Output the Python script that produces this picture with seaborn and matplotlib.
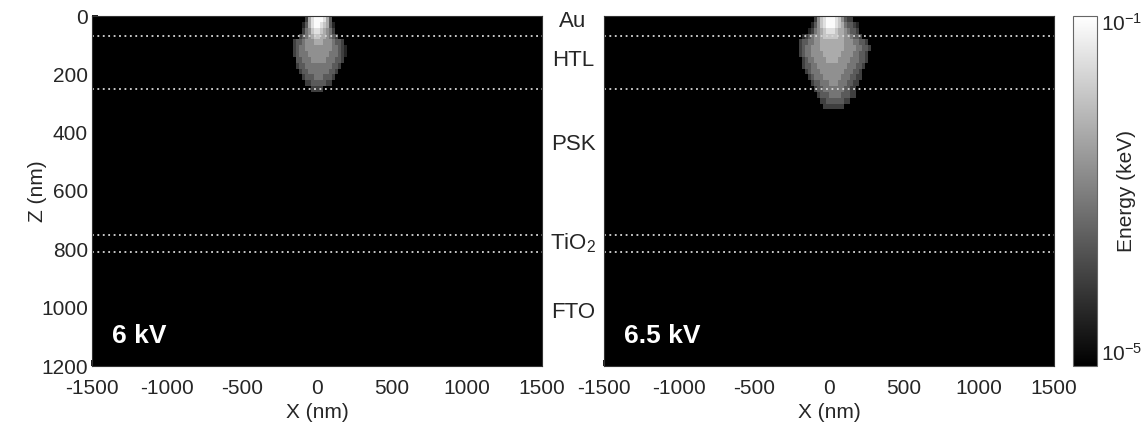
import numpy as np
import matplotlib
matplotlib.use("Agg")
import matplotlib.pyplot as plt
import matplotlib.transforms as mtransforms
from matplotlib.colors import LogNorm
from matplotlib.ticker import FixedLocator, NullFormatter
import seaborn as sns

# simulation box (nm) and pixel size of the energy map
x_range = [-1500, 1500]
z_range = [0, 1200]
cell = 20

x_ticks = [-1500, -1000, -500, 0, 500, 1000, 1500]
z_ticks = [0, 200, 400, 600, 800, 1000, 1200]

# layer interfaces (nm) and where the layer names sit
interfaces = [70, 250, 750, 810]
layer_names = ["Au", "HTL", "PSK", r"TiO$_\mathregular{2}$", "FTO"]
layer_label_z = [18, 152, 442, 778, 1015]

voltages = ["6 kV", "6.5 kV"]

# grey level (0-9) of every 20 nm pixel, read from the maps
# first column starts at X = -240 nm, first row at Z = 0
plume_x0 = -240
plume_6kv = [
    "00000000268999863",
    "000000013689987631",
    "000000024578876542",
    "0000002345677665432",
    "000023345556665554332",
    "0000234455555555544321",
    "0000234445555555444321",
    "000003344455555444332",
    "00000233444444444332",
    "0000002334444444332",
    "000000023334443332",
    "00000000223333322",
    "00000000002222",
]
plume_65kv = [
    "00000002578999875322",
    "0000001357899987643321",
    "0000012456788876654332",
    "00012345567777766554332",
    "0023344556666666655544332",
    "00234455566666666555544332",
    "0023445555666666555544332",
    "0002344555566665555444332",
    "000233445555555555444332",
    "00002344455555555444332",
    "00000234445555554443322",
    "0000002334445554443322",
    "000000023344444443322",
    "000000002333444433322",
    "0000000002233333322",
    "00000000002222222",
]

e_min, e_max = 10 ** -5.17, 10 ** -0.93


def energy_map(rows):
    nz = (z_range[1] - z_range[0]) // cell
    nx = (x_range[1] - x_range[0]) // cell
    grid = np.full((nz, nx), e_min)
    c0 = (plume_x0 - x_range[0]) // cell
    for r, row in enumerate(rows):
        for c, ch in enumerate(row):
            lvl = int(ch)
            if lvl > 0:
                grid[r, c0 + c] = 10 ** (-5 + 4 * lvl / 9)
    return grid


def to_col(x):
    return (x - x_range[0]) / cell


def to_row(z):
    return (z - z_range[0]) / cell


sns.set_theme(style="white")
plt.rcParams["font.family"] = ["Liberation Sans", "DejaVu Sans"]
plt.rcParams["font.size"] = 15

fig = plt.figure(figsize=(11.41, 4.25), dpi=100)
ax1 = fig.add_axes([92 / 1141, 59 / 425, 450 / 1141, 350 / 425])
ax2 = fig.add_axes([604 / 1141, 59 / 425, 450 / 1141, 350 / 425])
cax = fig.add_axes([1073 / 1141, 59 / 425, 24 / 1141, 350 / 425])

norm = LogNorm(vmin=e_min, vmax=e_max)

for ax, rows, volt in zip([ax1, ax2], [plume_6kv, plume_65kv], voltages):
    sns.heatmap(energy_map(rows), ax=ax, cmap="gray", norm=norm, cbar=False,
                xticklabels=False, yticklabels=False, rasterized=True)
    for z in interfaces:
        ax.axhline(to_row(z), color="#d8d8d8", lw=1.3, ls=(0, (1, 2)))
    ax.set_xticks([to_col(x) for x in x_ticks])
    ax.set_xticklabels([str(x) for x in x_ticks], rotation=0)
    ax.set_xlabel("X (nm)", fontsize=15)
    ax.xaxis.set_label_coords(0.5, -0.105)
    ax.tick_params(axis="x", direction="in", length=4, labelsize=15, pad=9,
                   bottom=True, color="black")
    ax.tick_params(axis="y", direction="in", length=4, labelsize=15, pad=3,
                   left=True, color="black")
    ax.text(0.045, 0.085, volt, transform=ax.transAxes, color="white",
            fontsize=19, fontweight="bold", va="center", ha="left")
    for s in ax.spines.values():
        s.set_visible(True)
        s.set_color("#333333")
        s.set_linewidth(0.8)

ax1.set_yticks([to_row(z) for z in z_ticks])
ax1.set_yticklabels([str(z) for z in z_ticks], rotation=0)
ax1.set_ylabel("Z (nm)", fontsize=15)
ax1.yaxis.set_label_coords(-0.1, 0.5)
ax2.set_yticks([])

# layer names between the two maps
trans = mtransforms.blended_transform_factory(fig.transFigure, ax1.transData)
for name, z in zip(layer_names, layer_label_z):
    fig.text(573 / 1141, to_row(z), name, transform=trans, ha="center",
             va="center", fontsize=16)

cb = fig.colorbar(ax1.collections[0], cax=cax)
cb.set_ticks([1e-5, 1e-1])
cb.set_ticklabels([r"$\mathregular{10^{-5}}$", r"$\mathregular{10^{-1}}$"])
cb.ax.yaxis.set_minor_locator(FixedLocator([1e-4, 1e-3, 1e-2]))
cb.ax.yaxis.set_minor_formatter(NullFormatter())
cb.ax.tick_params(which="major", length=0, labelsize=15, pad=3)
cb.ax.tick_params(which="minor", length=3, direction="in", color="#888888")
cb.outline.set_edgecolor("#666666")
cb.outline.set_linewidth(0.8)
cb.set_label("Energy (keV)", fontsize=15)
cb.ax.yaxis.set_label_coords(1.85, 0.5)

fig.savefig("out.png", dpi=100)
